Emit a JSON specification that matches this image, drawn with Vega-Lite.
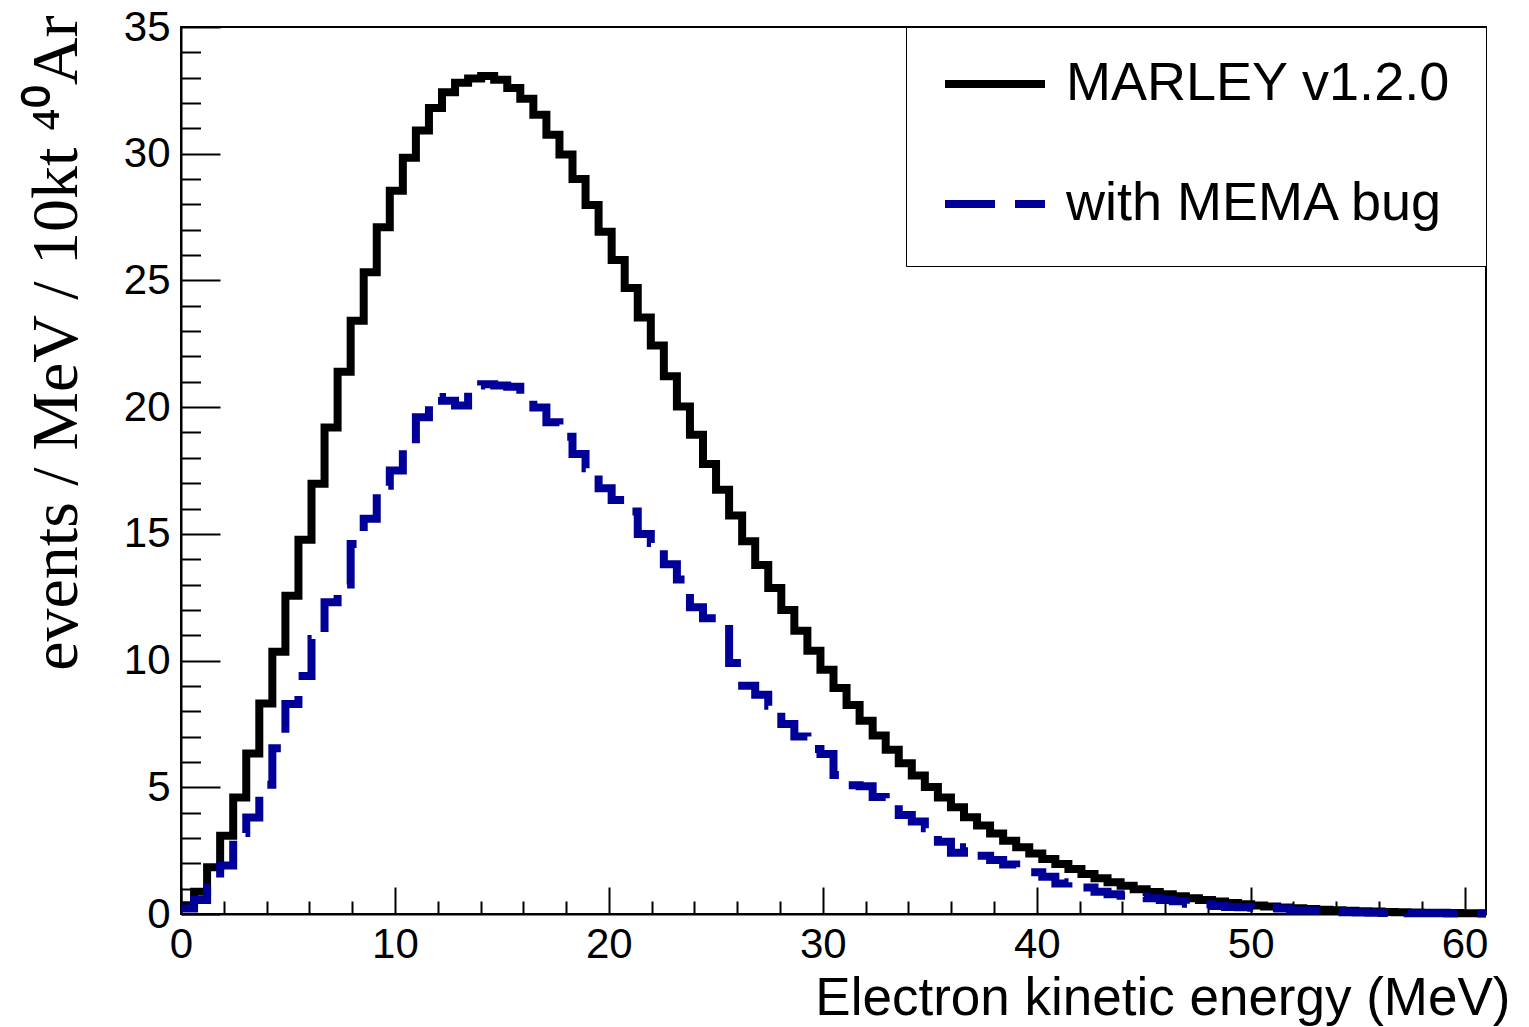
{
  "$schema": "https://vega.github.io/schema/vega-lite/v6.json",
  "width": 1305,
  "height": 887,
  "autosize": {"type": "none"},
  "padding": {"left": 181, "top": 27, "right": 43, "bottom": 113},
  "background": "white",
  "config": {
    "view": {"stroke": "black", "strokeWidth": 2},
    "axis": {"grid": false, "labelColor": "black", "tickColor": "black", "domainColor": "black", "titleColor": "black", "labelFont": "Liberation Sans", "titleFont": "Liberation Sans", "titleFontWeight": "normal"},
    "legend": {"orient": "top-right", "offset": 0, "title": null, "strokeColor": "black", "fillColor": "white", "padding": 35, "symbolType": "stroke", "symbolSize": 10000, "symbolStrokeWidth": 8, "symbolOffset": 0, "clipHeight": 44, "labelFontSize": 54, "labelFont": "Liberation Sans", "labelColor": "black", "labelOffset": 17, "rowPadding": 66, "labelLimit": 700}
  },
  "data": {"values": [
    {"E": 0, "marley": 0.35, "mema": 0.22},
    {"E": 0.61, "marley": 0.88, "mema": 0.55},
    {"E": 1.22, "marley": 1.84, "mema": 1.05},
    {"E": 1.83, "marley": 3.09, "mema": 1.91},
    {"E": 2.44, "marley": 4.60, "mema": 3.20},
    {"E": 3.05, "marley": 6.33, "mema": 3.81},
    {"E": 3.66, "marley": 8.31, "mema": 5.10},
    {"E": 4.27, "marley": 10.35, "mema": 6.54},
    {"E": 4.88, "marley": 12.56, "mema": 8.29},
    {"E": 5.49, "marley": 14.77, "mema": 9.39},
    {"E": 6.1, "marley": 16.98, "mema": 10.85},
    {"E": 6.71, "marley": 19.20, "mema": 12.30},
    {"E": 7.32, "marley": 21.40, "mema": 13.00},
    {"E": 7.93, "marley": 23.41, "mema": 14.60},
    {"E": 8.54, "marley": 25.32, "mema": 15.60},
    {"E": 9.15, "marley": 27.10, "mema": 16.90},
    {"E": 9.76, "marley": 28.54, "mema": 17.50},
    {"E": 10.37, "marley": 29.84, "mema": 18.55},
    {"E": 10.98, "marley": 30.92, "mema": 19.60},
    {"E": 11.59, "marley": 31.80, "mema": 20.40},
    {"E": 12.2, "marley": 32.43, "mema": 20.25},
    {"E": 12.81, "marley": 32.80, "mema": 20.06},
    {"E": 13.42, "marley": 32.97, "mema": 20.85},
    {"E": 14.03, "marley": 33.07, "mema": 20.90},
    {"E": 14.64, "marley": 32.92, "mema": 20.85},
    {"E": 15.25, "marley": 32.59, "mema": 20.80},
    {"E": 15.86, "marley": 32.17, "mema": 20.48},
    {"E": 16.47, "marley": 31.54, "mema": 19.99},
    {"E": 17.08, "marley": 30.75, "mema": 19.40},
    {"E": 17.69, "marley": 29.97, "mema": 18.83},
    {"E": 18.3, "marley": 29.00, "mema": 18.15},
    {"E": 18.91, "marley": 27.98, "mema": 17.59},
    {"E": 19.52, "marley": 26.92, "mema": 16.80},
    {"E": 20.13, "marley": 25.81, "mema": 16.34},
    {"E": 20.74, "marley": 24.70, "mema": 15.88},
    {"E": 21.35, "marley": 23.54, "mema": 14.99},
    {"E": 21.96, "marley": 22.43, "mema": 14.64},
    {"E": 22.57, "marley": 21.22, "mema": 13.80},
    {"E": 23.18, "marley": 20.03, "mema": 13.20},
    {"E": 23.79, "marley": 18.91, "mema": 12.10},
    {"E": 24.4, "marley": 17.76, "mema": 11.67},
    {"E": 25.01, "marley": 16.74, "mema": 11.25},
    {"E": 25.62, "marley": 15.72, "mema": 9.90},
    {"E": 26.23, "marley": 14.71, "mema": 9.01},
    {"E": 26.84, "marley": 13.77, "mema": 8.65},
    {"E": 27.45, "marley": 12.86, "mema": 8.22},
    {"E": 28.06, "marley": 12.00, "mema": 7.50},
    {"E": 28.67, "marley": 11.18, "mema": 7.00},
    {"E": 29.28, "marley": 10.39, "mema": 6.51},
    {"E": 29.89, "marley": 9.64, "mema": 6.31},
    {"E": 30.5, "marley": 8.92, "mema": 5.48},
    {"E": 31.11, "marley": 8.25, "mema": 5.08},
    {"E": 31.72, "marley": 7.63, "mema": 5.04},
    {"E": 32.33, "marley": 7.04, "mema": 4.62},
    {"E": 32.94, "marley": 6.48, "mema": 4.55},
    {"E": 33.55, "marley": 5.95, "mema": 3.91},
    {"E": 34.16, "marley": 5.47, "mema": 3.65},
    {"E": 34.77, "marley": 5.01, "mema": 3.38},
    {"E": 35.38, "marley": 4.60, "mema": 2.85},
    {"E": 35.99, "marley": 4.21, "mema": 2.42},
    {"E": 36.6, "marley": 3.82, "mema": 2.63},
    {"E": 37.21, "marley": 3.49, "mema": 2.30},
    {"E": 37.82, "marley": 3.18, "mema": 2.13},
    {"E": 38.43, "marley": 2.89, "mema": 1.95},
    {"E": 39.04, "marley": 2.63, "mema": 1.72},
    {"E": 39.65, "marley": 2.39, "mema": 1.65},
    {"E": 40.26, "marley": 2.17, "mema": 1.47},
    {"E": 40.87, "marley": 1.97, "mema": 1.20},
    {"E": 41.48, "marley": 1.78, "mema": 1.25},
    {"E": 42.09, "marley": 1.58, "mema": 1.05},
    {"E": 42.7, "marley": 1.41, "mema": 0.88},
    {"E": 43.31, "marley": 1.25, "mema": 0.78},
    {"E": 43.92, "marley": 1.11, "mema": 0.72},
    {"E": 44.53, "marley": 0.98, "mema": 0.68},
    {"E": 45.14, "marley": 0.87, "mema": 0.62},
    {"E": 45.75, "marley": 0.78, "mema": 0.55},
    {"E": 46.36, "marley": 0.70, "mema": 0.50},
    {"E": 46.97, "marley": 0.62, "mema": 0.40},
    {"E": 47.58, "marley": 0.55, "mema": 0.38},
    {"E": 48.19, "marley": 0.49, "mema": 0.32},
    {"E": 48.8, "marley": 0.43, "mema": 0.28},
    {"E": 49.41, "marley": 0.38, "mema": 0.27},
    {"E": 50.02, "marley": 0.34, "mema": 0.25},
    {"E": 50.63, "marley": 0.30, "mema": 0.24},
    {"E": 51.24, "marley": 0.26, "mema": 0.22},
    {"E": 51.85, "marley": 0.23, "mema": 0.14},
    {"E": 52.46, "marley": 0.20, "mema": 0.14},
    {"E": 53.07, "marley": 0.17, "mema": 0.13},
    {"E": 53.68, "marley": 0.15, "mema": 0.11},
    {"E": 54.29, "marley": 0.13, "mema": 0.07},
    {"E": 54.9, "marley": 0.11, "mema": 0.06},
    {"E": 55.51, "marley": 0.10, "mema": 0.05},
    {"E": 56.12, "marley": 0.08, "mema": 0.04},
    {"E": 56.73, "marley": 0.07, "mema": 0.04},
    {"E": 57.34, "marley": 0.06, "mema": 0.03},
    {"E": 57.95, "marley": 0.05, "mema": 0.03},
    {"E": 58.56, "marley": 0.05, "mema": 0.03},
    {"E": 59.17, "marley": 0.04, "mema": 0.02},
    {"E": 59.78, "marley": 0.03, "mema": 0.02},
    {"E": 60.39, "marley": 0.03, "mema": 0.02},
    {"E": 61, "marley": 0.03, "mema": 0.02}
  ]},
  "resolve": {"axis": {"x": "independent", "y": "independent"}},
  "layer": [
    {
      "mark": {"type": "point", "opacity": 0},
      "encoding": {
        "x": {"field": "E", "type": "quantitative", "scale": {"domain": [0, 61], "nice": false, "zero": false},
          "axis": {"orient": "bottom", "values": [2,4,6,8,12,14,16,18,22,24,26,28,32,34,36,38,42,44,46,48,52,54,56,58], "tickSize": -13, "tickWidth": 2, "labels": false, "domain": false, "title": null}},
        "y": {"field": "marley", "type": "quantitative", "scale": {"domain": [0, 35], "nice": false, "zero": false},
          "axis": {"orient": "left", "values": [1,2,3,4,6,7,8,9,11,12,13,14,16,17,18,19,21,22,23,24,26,27,28,29,31,32,33,34], "tickSize": -19.5, "tickWidth": 2, "labels": false, "domain": false, "title": null}}
      }
    },
    {
      "transform": [{"fold": ["marley", "mema"], "as": ["key", "v"]}],
      "mark": {"type": "line", "interpolate": "step-after", "strokeWidth": 8, "strokeJoin": "miter", "strokeCap": "butt"},
      "encoding": {
        "x": {"field": "E", "type": "quantitative", "scale": {"domain": [0, 61], "nice": false, "zero": false},
          "axis": {"orient": "bottom", "values": [0,10,20,30,40,50,60], "tickSize": -27, "tickWidth": 2, "domainWidth": 2, "labelFontSize": 42, "labelPadding": 37, "labelFlush": false,
            "title": "Electron kinetic energy (MeV)", "titleFontSize": 53, "titleAlign": "right", "titleAnchor": "end", "titleX": 1329, "titleY": 100, "titleBaseline": "alphabetic"}},
        "y": {"field": "v", "type": "quantitative", "scale": {"domain": [0, 35], "nice": false, "zero": false},
          "axis": {"orient": "left", "values": [0,5,10,15,20,25,30,35], "tickSize": -39, "tickWidth": 2, "domainWidth": 2, "labelFontSize": 42, "labelPadding": 50, "labelFlush": false,
            "title": "events / MeV / 10kt ⁴⁰Ar", "titleFont": "Liberation Serif", "titleFontSize": 66, "titleAngle": 270, "titleAlign": "right", "titleAnchor": "end", "titleX": -105, "titleY": -12, "titleBaseline": "alphabetic"}},
        "color": {"field": "key", "type": "nominal", "scale": {"domain": ["marley", "mema"], "range": ["#000000", "#000099"]},
          "legend": {"labelExpr": "datum.value == 'marley' ? 'MARLEY v1.2.0' : 'with MEMA bug'"}},
        "strokeDash": {"field": "key", "type": "nominal", "scale": {"domain": ["marley", "mema"], "range": [[1, 0], [50, 20]]},
          "legend": {"labelExpr": "datum.value == 'marley' ? 'MARLEY v1.2.0' : 'with MEMA bug'"}}
      }
    }
  ]
}
